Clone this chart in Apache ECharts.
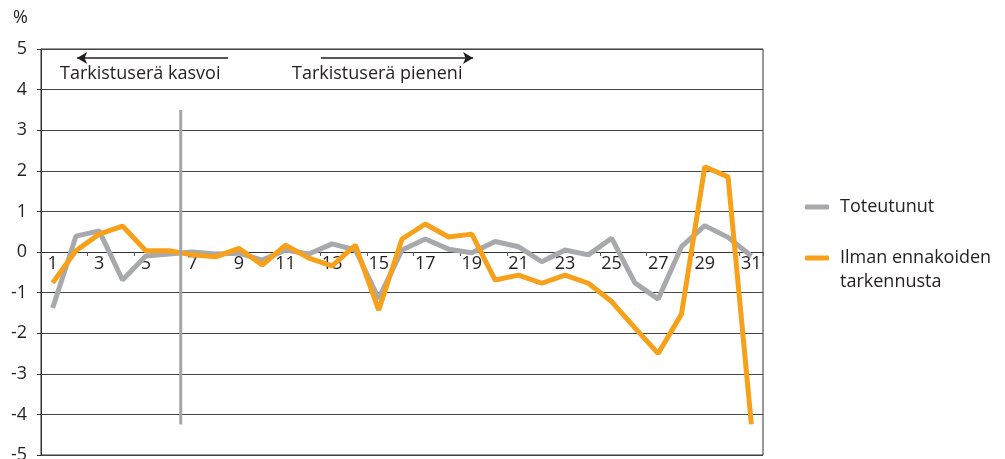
<!DOCTYPE html>
<html>
<head>
<meta charset="utf-8">
<script src="https://cdn.jsdelivr.net/npm/echarts@6/dist/echarts.min.js"></script>
<style>
  html, body { margin: 0; padding: 0; background: #fff; }
  #chart { width: 1005px; height: 459px; }
</style>
</head>
<body>
<div id="chart"></div>
<script>
// data
var categories = ['1','2','3','4','5','6','7','8','9','10','11','12','13','14','15','16',
  '17','18','19','20','21','22','23','24','25','26','27','28','29','30','31'];
var toteutunut = [-1.38, 0.39, 0.52, -0.69, -0.1, -0.05, 0.0, -0.05, -0.03, -0.2, 0.05, -0.05, 0.2, 0.05, -1.15, 0.05,
  0.32, 0.07, -0.02, 0.26, 0.13, -0.24, 0.05, -0.07, 0.34, -0.76, -1.16, 0.13, 0.65, 0.36, -0.1];
var ilman = [-0.76, 0.03, 0.44, 0.64, 0.03, 0.03, -0.07, -0.12, 0.09, -0.32, 0.17, -0.15, -0.34, 0.17, -1.43, 0.32,
  0.69, 0.37, 0.44, -0.69, -0.57, -0.77, -0.57, -0.77, -1.22, -1.87, -2.5, -1.53, 2.1, 1.85, -4.24];

var yMin = -5, yMax = 5, yStep = 1;

// annotation positions in data units (x: category number, y: %)
var dividerX = 6.5;
var dividerY = [3.5, -4.25];
var arrowY = 4.78;
var arrowLeft = [8.53, 2.05];
var arrowRight = [12.52, 19.05];

var font = '"Open Sans", "Noto Sans", sans-serif';
var textColor = '#231f20';
var fs = 18;

var W = 1005, H = 459;
var plotBox = { left: 41, right: 242, top: 49, bottom: 4, outerBoundsMode: 'none' };
// category axis sits on the zero line
var plotH = H - plotBox.top - plotBox.bottom;
var zeroOffset = plotH * (0 - yMin) / (yMax - yMin);

var chart = echarts.init(document.getElementById('chart'));

var legendBase = {
  orient: 'vertical',
  left: 805,
  padding: 0,
  itemWidth: 24,
  itemHeight: 5,
  icon: 'roundRect',
  textStyle: {
    fontFamily: font, fontSize: fs, color: textColor, lineHeight: 24,
    rich: { t: { fontFamily: font, fontSize: fs, color: textColor, lineHeight: 24, padding: [0, 0, 0, 6] } }
  }
};

var option = {
  animation: false,
  textStyle: { fontFamily: font },
  grid: [
    Object.assign({ show: true, borderColor: '#333', borderWidth: 1 }, plotBox),
    Object.assign({ show: false }, plotBox)
  ],
  legend: [
    Object.assign({
      top: 195,
      data: ['Toteutunut'],
      formatter: function (name) { return '{t|' + name + '}'; }
    }, legendBase),
    Object.assign({
      top: 222,
      data: ['Ilman ennakoiden tarkennusta'],
      // empty first line so the icon sits next to the first text line
      formatter: function () { return '\n{t|Ilman ennakoiden}\n{t|tarkennusta}'; }
    }, legendBase)
  ],
  xAxis: [{
    type: 'category',
    gridIndex: 0,
    position: 'bottom',
    offset: -zeroOffset,
    data: categories,
    boundaryGap: true,
    axisLine: { onZero: false, lineStyle: { color: '#333', width: 1 } },
    axisTick: { show: true, length: 4, lineStyle: { color: '#555' } },
    axisLabel: { interval: 1, fontSize: fs, color: textColor, margin: 3, fontFamily: font },
    splitLine: { show: false }
  }, {
    type: 'value',
    gridIndex: 1,
    min: 0.5,
    max: 31.5,
    show: false
  }],
  yAxis: [{
    type: 'value',
    gridIndex: 0,
    min: yMin,
    max: yMax,
    interval: yStep,
    axisLine: { show: true, onZero: false, lineStyle: { color: '#333', width: 1 } },
    axisTick: { show: true, length: 4, lineStyle: { color: '#333' } },
    axisLabel: { fontSize: fs, color: textColor, margin: 14, fontFamily: font },
    splitLine: { lineStyle: { color: '#444', width: 1 } }
  }, {
    type: 'value',
    gridIndex: 1,
    min: yMin,
    max: yMax,
    show: false
  }],
  graphic: [
    { type: 'text', left: 13, top: 9, style: { text: '%', fontSize: fs, fill: textColor, fontFamily: font } },
    { type: 'text', left: 60, top: 65, style: { text: 'Tarkistuserä kasvoi', fontSize: fs, fill: textColor, fontFamily: font } },
    { type: 'text', left: 292, top: 65, style: { text: 'Tarkistuserä pieneni', fontSize: fs, fill: textColor, fontFamily: font } }
  ],
  series: [{
    name: 'Toteutunut',
    type: 'line',
    data: toteutunut,
    symbol: 'none',
    lineStyle: { color: '#a7a9ac', width: 5 },
    itemStyle: { color: '#a7a9ac' },
    z: 2
  }, {
    name: 'Ilman ennakoiden tarkennusta',
    type: 'line',
    data: ilman,
    symbol: 'none',
    lineStyle: { color: '#f7a11a', width: 5 },
    itemStyle: { color: '#f7a11a' },
    z: 3
  }, {
    name: 'divider',
    type: 'line',
    xAxisIndex: 1,
    yAxisIndex: 1,
    data: [[dividerX, dividerY[0]], [dividerX, dividerY[1]]],
    symbol: 'none',
    lineStyle: { color: '#a6a6a6', width: 3 },
    silent: true,
    z: 4,
    markLine: {
      silent: true,
      symbol: ['none', 'arrow'],
      symbolSize: [9, 10],
      label: { show: false },
      lineStyle: { color: '#231f20', width: 1.5, type: 'solid' },
      data: [
        [{ coord: [arrowLeft[0], arrowY] }, { coord: [arrowLeft[1], arrowY] }],
        [{ coord: [arrowRight[0], arrowY] }, { coord: [arrowRight[1], arrowY] }]
      ]
    }
  }]
};

chart.setOption(option);
</script>
</body>
</html>
